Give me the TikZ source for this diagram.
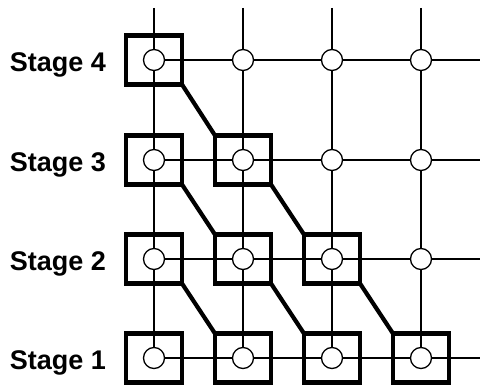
\documentclass[tikz,border=0pt]{standalone}
\usepackage{fontspec}
\setsansfont{Liberation Sans}
\usetikzlibrary{positioning}

\begin{document}
\begin{tikzpicture}[
  x=1pt, y=-1pt,
  font=\sffamily\bfseries\fontsize{27}{27}\selectfont,
  wire/.style={line width=1.3pt},
  pe/.style={circle, draw, line width=1.3pt, fill=white, minimum size=21pt, inner sep=0pt},
  sel/.style={draw, line width=4.2pt, minimum width=56pt, minimum height=49pt, inner sep=0pt, outer sep=0pt},
  link/.style={line width=4.2pt},
  lbl/.style={anchor=base east, inner sep=0pt}
]
\useasboundingbox (0,0) rectangle (480,385);
% processing elements
\foreach \c/\x in {1/154,2/243,3/332,4/421}{
  \foreach \s/\y in {1/358,2/259,3/160,4/60}{
    \node[pe] (c\c\s) at (\x,\y) {};
  }
}
% free ends of the grid
\foreach \s/\y in {1/358,2/259,3/160,4/60} \coordinate (r\s) at (480,\y);
\foreach \c/\x in {1/154,2/243,3/332,4/421} \coordinate (t\c) at (\x,8);
\foreach \s in {1,...,4}{
  \draw[wire] (c1\s) -- (c2\s) (c2\s) -- (c3\s) (c3\s) -- (c4\s) (c4\s) -- (r\s);
}
\foreach \c in {1,...,4}{
  \draw[wire] (t\c) -- (c\c4) (c\c4) -- (c\c3) (c\c3) -- (c\c2) (c\c2) -- (c\c1);
}
% selected elements
\foreach \c/\s in {1/4,1/3,2/3,1/2,2/2,3/2,1/1,2/1,3/1,4/1}
  \node[sel] (b\c\s) at (c\c\s) {};
\foreach \a/\b in {14/23,13/22,23/32,12/21,22/31,32/41}
  \draw[link] (b\a.south east) -- (b\b.north west);
% stage labels
\foreach \s/\y in {1/358,2/259,3/160,4/60}
  \node[lbl] (l\s) at (106,\y+12) {Stage \s};
\end{tikzpicture}
\end{document}
